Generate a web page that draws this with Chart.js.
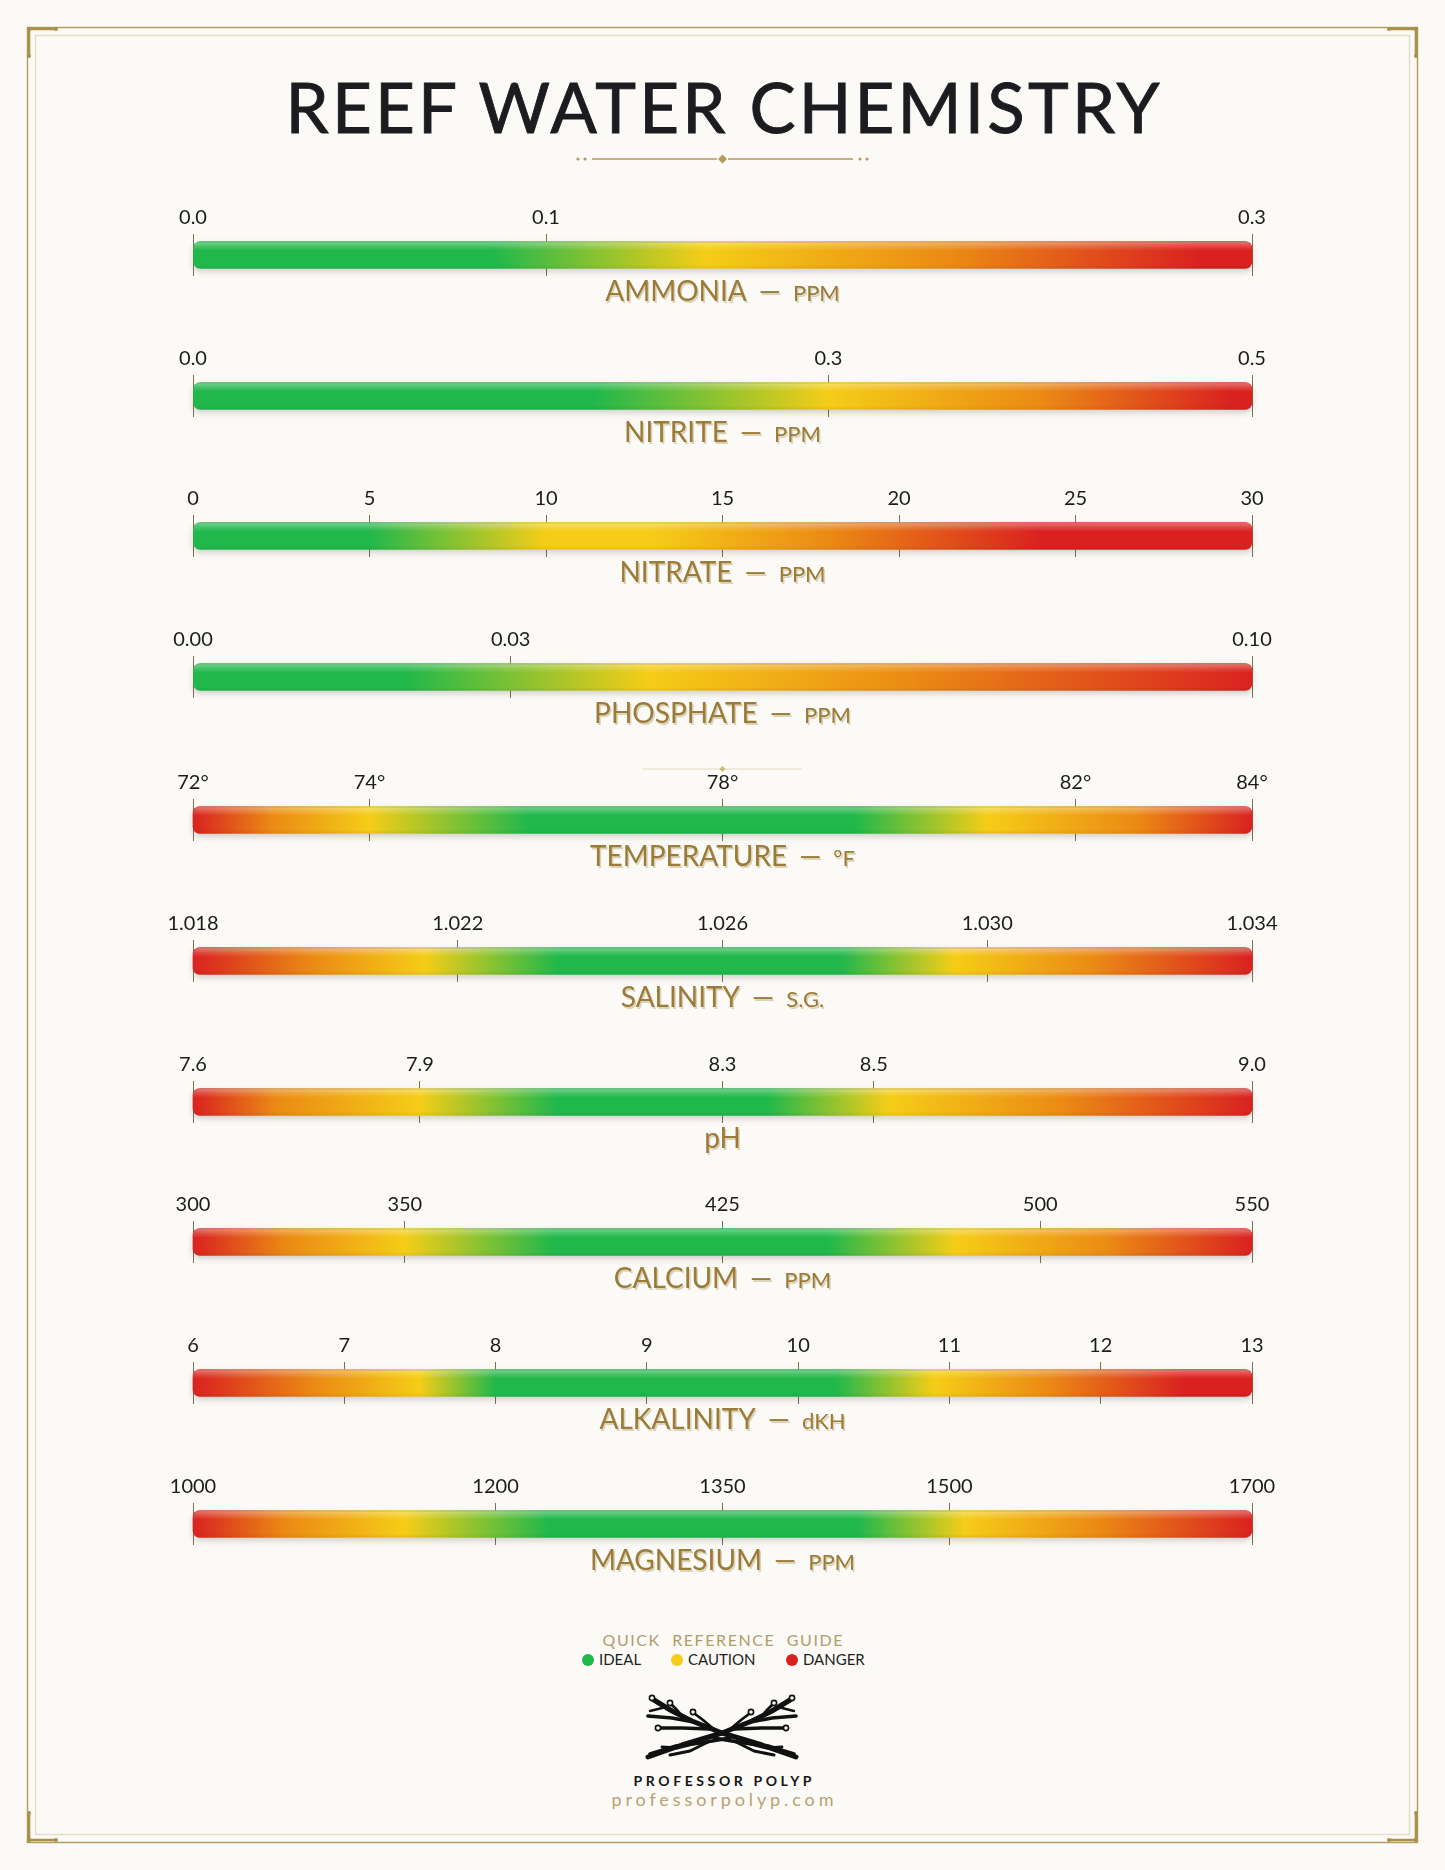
<!DOCTYPE html>
<html>
<head>
<meta charset="utf-8">
<script src="https://cdn.jsdelivr.net/npm/chart.js@4.4.0/dist/chart.umd.min.js"></script>
<style>
  html, body { margin: 0; padding: 0; background: #fbfaf6; }
  #page { position: relative; width: 1445px; height: 1870px; overflow: hidden; font-family: Lato, 'Noto Sans', sans-serif; }
  #deco { position: absolute; left: 0; top: 0; }
  .row { position: absolute; left: 0; width: 1445px; height: 92px; }
  .line { position: absolute; left: 0; width: 1445px; text-align: center; white-space: nowrap; line-height: 1; }
  .line span.t { display: inline-block; }
  .name { color: #9a7b38; font-size: 28px; text-shadow: 1.5px 1.5px 0 rgba(175, 150, 95, 0.4); }
  .name .dash { font-size: 28px; margin: 0 12px; }
  .name .unit { font-size: 22px; }
  #title { top: 72px; font-size: 69px; color: #1c1c20; -webkit-text-stroke: 0.9px #1c1c20; }
  #guide { top: 1632px; font-size: 16px; color: #b19c6b; }
  #brand { top: 1774px; font-size: 14px; font-weight: bold; color: #151515; }
  #url { top: 1790px; font-size: 18px; color: #b8a173; }
  .key { position: absolute; top: 1652px; font-size: 15px; line-height: 1; color: #1e1e1e; white-space: nowrap; }
  .key i { position: absolute; left: -17px; top: 2px; width: 12px; height: 12px; border-radius: 50%; }
</style>
</head>
<body>
<div id="page">
  <svg id="deco" width="1445" height="1870"></svg>
  <div class="line" id="title"><span class="t">REEF WATER CHEMISTRY</span></div>
  <div class="line" id="guide"><span class="t">QUICK&nbsp; REFERENCE&nbsp; GUIDE</span></div>
  <div class="line" id="brand"><span class="t">PROFESSOR POLYP</span></div>
  <div class="line" id="url"><span class="t">professorpolyp.com</span></div>
</div>
<script>
// parameters, top to bottom
const names = ['AMMONIA', 'NITRITE', 'NITRATE', 'PHOSPHATE', 'TEMPERATURE', 'SALINITY', 'pH', 'CALCIUM', 'ALKALINITY', 'MAGNESIUM'];
const units = ['PPM', 'PPM', 'PPM', 'PPM', '°F', 'S.G.', '', 'PPM', 'dKH', 'PPM'];

const tickValues = [
  [0, 0.1, 0.3],
  [0, 0.3, 0.5],
  [0, 5, 10, 15, 20, 25, 30],
  [0, 0.03, 0.10],
  [72, 74, 78, 82, 84],
  [1.018, 1.022, 1.026, 1.030, 1.034],
  [7.6, 7.9, 8.3, 8.5, 9.0],
  [300, 350, 425, 500, 550],
  [6, 7, 8, 9, 10, 11, 12, 13],
  [1000, 1200, 1350, 1500, 1700]
];
const tickLabels = [
  ['0.0', '0.1', '0.3'],
  ['0.0', '0.3', '0.5'],
  ['0', '5', '10', '15', '20', '25', '30'],
  ['0.00', '0.03', '0.10'],
  ['72°', '74°', '78°', '82°', '84°'],
  ['1.018', '1.022', '1.026', '1.030', '1.034'],
  ['7.6', '7.9', '8.3', '8.5', '9.0'],
  ['300', '350', '425', '500', '550'],
  ['6', '7', '8', '9', '10', '11', '12', '13'],
  ['1000', '1200', '1350', '1500', '1700']
];

// where each zone colour peaks along the bar (data units)
const stopValues = [
  [0, 0.085, 0.145, 0.215, 0.285, 0.3],
  [0, 0.19, 0.3, 0.4, 0.49, 0.5],
  [0, 5, 10, 13, 18, 24, 30],
  [0, 0.02, 0.043, 0.068, 0.1],
  [72, 72.9, 74, 75.8, 79.5, 81, 82.7, 84],
  [1.018, 1.0198, 1.0215, 1.0235, 1.0278, 1.0295, 1.0316, 1.034],
  [7.6, 7.71, 7.9, 8.08, 8.36, 8.52, 8.75, 9.0],
  [300, 322, 350, 385, 450, 480, 516, 550],
  [6, 6.8, 7.5, 8, 10.25, 10.9, 11.65, 12.55, 13],
  [1000, 1061, 1140, 1235, 1440, 1510, 1598, 1700]
];
const stopZones = [
  ['ideal', 'ideal', 'caution', 'warn', 'danger', 'danger'],
  ['ideal', 'ideal', 'caution', 'warn', 'danger', 'danger'],
  ['ideal', 'ideal', 'caution', 'caution', 'warn', 'danger', 'danger'],
  ['ideal', 'ideal', 'caution', 'warn', 'danger'],
  ['danger', 'warn', 'caution', 'ideal', 'ideal', 'caution', 'warn', 'danger'],
  ['danger', 'warn', 'caution', 'ideal', 'ideal', 'caution', 'warn', 'danger'],
  ['danger', 'warn', 'caution', 'ideal', 'ideal', 'caution', 'warn', 'danger'],
  ['danger', 'warn', 'caution', 'ideal', 'ideal', 'caution', 'warn', 'danger'],
  ['danger', 'warn', 'caution', 'ideal', 'ideal', 'caution', 'warn', 'danger', 'danger'],
  ['danger', 'warn', 'caution', 'ideal', 'ideal', 'caution', 'warn', 'danger']
];

const legendNames = ['IDEAL', 'CAUTION', 'DANGER'];
const legendZones = ['ideal', 'caution', 'danger'];

const zoneColor = { ideal: '#21b84b', caution: '#f5cd17', warn: '#eb8a14', danger: '#d92220' };

const page = document.getElementById('page');
const SIDE = 193;          // left/right edge of every bar
const FIRST_ROW = 255;     // centre of the first bar
const PITCH = 140.7;

function rowCenter(i) {
  return FIRST_ROW + PITCH * i + (i >= 4 ? 2.4 : 0);
}

// horizontal zone gradient, positioned with the row's own x scale
function barGradient(ctx, i) {
  const chart = ctx.chart;
  if (!chart.chartArea) return zoneColor.ideal;
  const x = chart.scales.x;
  const vals = stopValues[i];
  const x0 = x.getPixelForValue(vals[0]);
  const x1 = x.getPixelForValue(vals[vals.length - 1]);
  const g = chart.ctx.createLinearGradient(x0, 0, x1, 0);
  vals.forEach((v, k) => {
    g.addColorStop((x.getPixelForValue(v) - x0) / (x1 - x0), zoneColor[stopZones[i][k]]);
  });
  return g;
}

// soft shadow under the bar and a glossy strip on top of it
const barFx = {
  id: 'barFx',
  beforeDatasetsDraw(chart) {
    const c = chart.ctx;
    c.save();
    c.shadowColor = 'rgba(0,0,0,0.17)';
    c.shadowBlur = 6;
    c.shadowOffsetY = 3;
  },
  afterDatasetsDraw(chart) {
    const c = chart.ctx;
    c.restore();
    const bar = chart.getDatasetMeta(0).data[0];
    if (!bar) return;
    const p = bar.getProps(['x', 'y', 'base', 'height'], true);
    const left = Math.min(p.x, p.base), right = Math.max(p.x, p.base);
    const top = p.y - p.height / 2, h = p.height;
    c.save();
    c.beginPath();
    c.roundRect(left, top, right - left, h, 7);
    c.clip();
    const g = c.createLinearGradient(0, top, 0, top + h);
    g.addColorStop(0, 'rgba(255,255,255,0.38)');
    g.addColorStop(0.2, 'rgba(255,255,255,0.14)');
    g.addColorStop(0.34, 'rgba(255,255,255,0)');
    g.addColorStop(0.85, 'rgba(0,0,0,0)');
    g.addColorStop(1, 'rgba(0,0,0,0.06)');
    c.fillStyle = g;
    c.fillRect(left, top, right - left, h);
    c.strokeStyle = 'rgba(110,110,110,0.35)';
    c.lineWidth = 1;
    c.beginPath();
    c.moveTo(left + 4, top + 0.5);
    c.lineTo(right - 4, top + 0.5);
    c.stroke();
    c.restore();
  }
};

names.forEach((name, i) => {
  const canvas = document.createElement('canvas');
  canvas.className = 'row';
  canvas.width = 1445;
  canvas.height = 92;
  page.appendChild(canvas);
  const ticks = tickValues[i];
  const lo = ticks[0], hi = ticks[ticks.length - 1];

  const chart = new Chart(canvas, {
    type: 'bar',
    data: {
      labels: [name],
      datasets: [{
        data: [[lo, hi]],
        backgroundColor: ctx => barGradient(ctx, i),
        borderRadius: 7,
        borderSkipped: false,
        barThickness: 27,
        clip: false
      }]
    },
    options: {
      indexAxis: 'y',
      responsive: false,
      animation: false,
      events: [],
      layout: { padding: { left: SIDE, right: 1445 - 1252, top: 6, bottom: 12 } },
      plugins: { legend: { display: false }, tooltip: { enabled: false } },
      scales: {
        x: {
          type: 'linear',
          position: 'top',
          min: lo,
          max: hi,
          afterBuildTicks: ax => { ax.ticks = ticks.map(v => ({ value: v })); },
          ticks: {
            autoSkip: false,
            maxRotation: 0,
            padding: 4,
            color: '#1c1c1c',
            font: { family: 'Lato', size: 20 },
            callback: (v, k) => tickLabels[i][k]
          },
          grid: { drawTicks: false, color: '#7f7050', lineWidth: 1 },
          border: { display: false }
        },
        y: { display: false }
      }
    },
    plugins: [barFx]
  });

  const a = chart.chartArea;
  const mid = (a.top + a.bottom) / 2;
  canvas.style.top = (rowCenter(i) - mid) + 'px';

  // name and unit under the bar
  const lab = document.createElement('div');
  lab.className = 'line name';
  lab.style.top = (rowCenter(i) + 36 - 15) + 'px';
  lab.innerHTML = units[i]
    ? `<span>${name}</span><span class="dash">—</span><span class="unit">${units[i]}</span>`
    : `<span>${name}</span>`;
  page.appendChild(lab);
});

// legend
const keyLeft = [599, 688, 803];
legendNames.forEach((n, k) => {
  const d = document.createElement('div');
  d.className = 'key';
  d.style.left = keyLeft[k] + 'px';
  d.innerHTML = `<i style="background:${zoneColor[legendZones[k]]}"></i>${n}`;
  page.appendChild(d);
});

// stretch a text line to a given width with letter spacing
function spread(id, target) {
  const el = document.querySelector('#' + id + ' .t');
  el.style.letterSpacing = '0px';
  const w = el.getBoundingClientRect().width;
  const n = el.textContent.length;
  const s = (target - w) / (n - 1);
  el.style.letterSpacing = s + 'px';
  el.style.paddingLeft = s + 'px';
}
spread('title', 874);
spread('guide', 240);
spread('brand', 178);
spread('url', 222);

// frame, dividers and logo
const svgNS = 'http://www.w3.org/2000/svg';
const deco = document.getElementById('deco');
function add(tag, attrs, parent) {
  const el = document.createElementNS(svgNS, tag);
  for (const k in attrs) el.setAttribute(k, attrs[k]);
  (parent || deco).appendChild(el);
  return el;
}
const gold = '#b39a58';
add('rect', { x: 27.5, y: 27.5, width: 1390, height: 1815, fill: 'none', stroke: gold, 'stroke-width': 1.4 });
add('rect', { x: 35.5, y: 35.5, width: 1374, height: 1799, fill: 'none', stroke: '#e6dcc2', 'stroke-width': 1.4 });
[[29, 29, 1, 1], [1416, 29, -1, 1], [29, 1840, 1, -1], [1416, 1840, -1, -1]].forEach(([cx, cy, sx, sy]) => {
  add('path', { d: `M${cx + sx * 27} ${cy} L${cx} ${cy} L${cx} ${cy + sy * 27}`, fill: 'none', stroke: '#a88f4d', 'stroke-width': 2.6 });
  add('circle', { cx: cx + sx * 27, cy: cy, r: 2, fill: '#a88f4d' });
  add('circle', { cx: cx, cy: cy + sy * 27, r: 2, fill: '#a88f4d' });
  add('circle', { cx: cx, cy: cy, r: 2.2, fill: '#a88f4d' });
});

// title divider
[578, 585, 860, 867].forEach(x => add('circle', { cx: x, cy: 159, r: 1.6, fill: gold }));
add('line', { x1: 592, y1: 159, x2: 717, y2: 159, stroke: gold, 'stroke-width': 1.6 });
add('line', { x1: 728, y1: 159, x2: 853, y2: 159, stroke: gold, 'stroke-width': 1.6 });
add('path', { d: 'M722.5 154.5 L727 159 L722.5 163.5 L718 159 Z', fill: gold });

// small ornament above the temperature row
add('line', { x1: 643, y1: 769, x2: 802, y2: 769, stroke: '#e4d9bc', 'stroke-width': 1.2 });
add('path', { d: 'M722.5 766 L725.5 769 L722.5 772 L719.5 769 Z', fill: '#cdb884' });

// logo: two crossed branches
const branch = [
  { d: 'M74 24 L40 12 L0 0 L-30 -12 L-50 -22 L-68 -33', w: 5 },
  { d: 'M-28 -11 L-50 -15 L-74 -17', w: 3.6 },
  { d: 'M-12 -4 L-40 -5 L-61 -5', w: 3.4 },
  { d: 'M-40 -17 L-46 -24 L-50 -28', w: 2.8 },
  { d: 'M-6 -2 L-19 -13 L-27 -19', w: 2.8 },
  { d: 'M-56 -26 L-64 -24 L-72 -22', w: 2.4 },
  { d: 'M8 5 L-22 10 L-46 13 L-72 21', w: 3.6 },
  { d: 'M-12 8 L-32 18 L-52 22', w: 3 },
  { d: 'M28 11 L44 15 L60 14', w: 2.8 }
];
const dots = [[-70, -35], [-52, -30], [-29, -21], [-64, -5]];
const logo = add('g', { transform: 'translate(722 1733)' });
[1, -1].forEach(sx => {
  const g = add('g', { transform: `scale(${sx} 1)` }, logo);
  branch.forEach(b => {
    add('path', { d: b.d, fill: 'none', stroke: '#111', 'stroke-width': b.w, 'stroke-linejoin': 'round', 'stroke-linecap': 'round' }, g);
  });
  dots.forEach(([x, y]) => {
    add('circle', { cx: x, cy: y, r: 2.6, fill: '#fbfaf6', stroke: '#111', 'stroke-width': 1.6 }, g);
  });
});
</script>
</body>
</html>
